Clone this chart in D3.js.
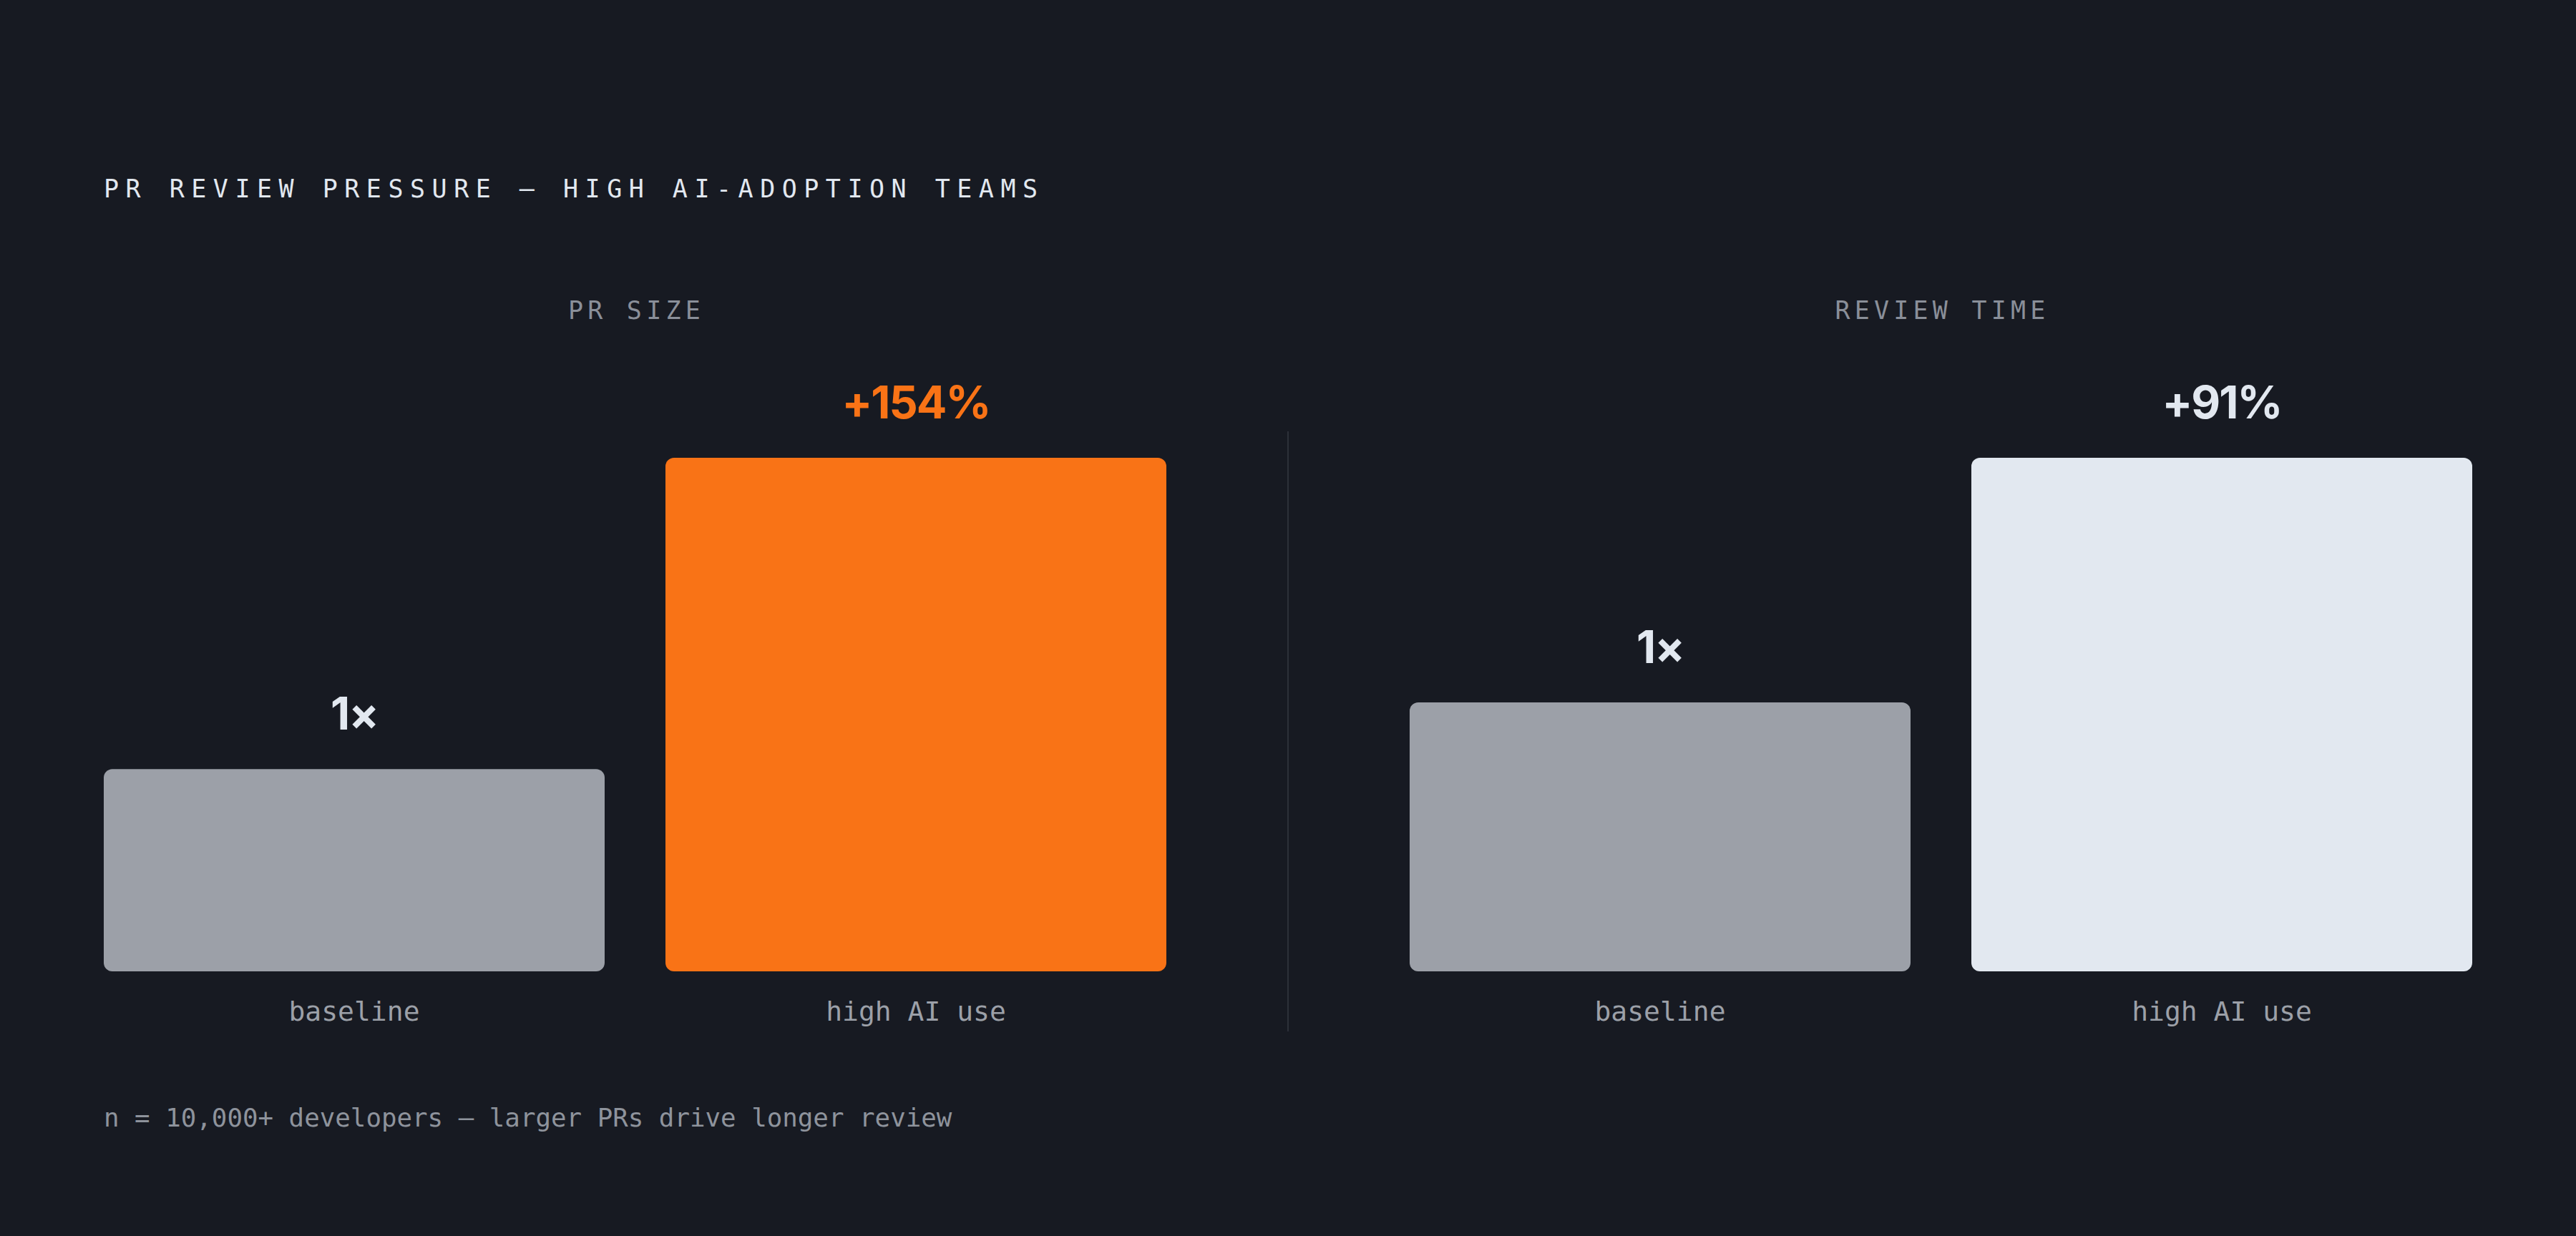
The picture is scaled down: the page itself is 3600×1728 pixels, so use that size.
<!DOCTYPE html>
<html>
<head>
<meta charset="utf-8">
<script src="https://cdn.jsdelivr.net/npm/d3@7"></script>
<style>
  html, body { margin: 0; padding: 0; background: #171a22; }
  svg { display: block; }
</style>
</head>
<body>
<svg id="chart" width="3600" height="1728"></svg>
<script>
// ---- data ----
const panelTitles = ["PR SIZE", "REVIEW TIME"];
const categories = ["baseline", "high AI use"];
const prSizeValues = [1, 2.54];
const reviewTimeValues = [1, 1.91];
const prSizeLabels = ["1×", "+154%"];
const reviewTimeLabels = ["1×", "+91%"];
const chartTitle = "PR REVIEW PRESSURE — HIGH AI-ADOPTION TEAMS";
const footnote = "n = 10,000+ developers — larger PRs drive longer review";

// ---- styling ----
const W = 3600, H = 1728;
const bg = "#171a22";
const mono = "'DejaVu Sans Mono', 'Liberation Mono', monospace";
const sans = "Inter, 'Noto Sans', sans-serif";
const panelColors = [
  ["#9ca0a8", "#f97316"],
  ["#9ca0a8", "#e2e8f0"]
];
const labelColors = [
  ["#e2e8f0", "#f97316"],
  ["#e2e8f0", "#e2e8f0"]
];

const panels = [
  { title: panelTitles[0], values: prSizeValues, labels: prSizeLabels },
  { title: panelTitles[1], values: reviewTimeValues, labels: reviewTimeLabels }
];

const svg = d3.select("#chart");
svg.append("rect").attr("width", W).attr("height", H).attr("fill", bg);

const left = 145, right = 3455, panelW = 1485;
const gap = (right - left) - 2 * panelW;
const panelScale = d3.scaleBand()
  .domain(d3.range(panels.length))
  .range([left, right])
  .paddingInner(gap / (panelW + gap))
  .paddingOuter(0);

const baseY = 1358, topY = 640;

// title
svg.append("text")
  .attr("x", left).attr("y", 276)
  .attr("font-family", mono).attr("font-size", 35)
  .attr("letter-spacing", 9.5)
  .attr("fill", "#e2e8f0")
  .text(chartTitle);

panels.forEach((p, pi) => {
  const g = svg.append("g").attr("transform", `translate(${panelScale(pi)},0)`);
  const pw = panelScale.bandwidth();
  const x = d3.scaleBand().domain(categories).range([0, pw]).paddingInner(85 / 785).paddingOuter(0);
  const y = d3.scaleLinear().domain([0, d3.max(p.values)]).range([baseY, topY]);

  g.append("text")
    .attr("x", pw / 2 + 2).attr("y", 446)
    .attr("text-anchor", "middle")
    .attr("font-family", mono).attr("font-size", 35)
    .attr("letter-spacing", 6.2)
    .attr("fill", "#8a8f99")
    .text(p.title);

  const data = categories.map((c, i) => ({ c, v: p.values[i], l: p.labels[i], i }));

  g.selectAll("rect.bar").data(data).enter().append("rect")
    .attr("class", "bar")
    .attr("x", d => x(d.c))
    .attr("y", d => y(d.v))
    .attr("width", x.bandwidth())
    .attr("height", d => baseY - y(d.v))
    .attr("rx", 12).attr("ry", 12)
    .attr("fill", d => panelColors[pi][d.i]);

  g.selectAll("text.val").data(data).enter().append("text")
    .attr("class", "val")
    .attr("x", d => x(d.c) + x.bandwidth() / 2)
    .attr("y", d => y(d.v) - 55)
    .attr("text-anchor", "middle")
    .attr("font-family", sans).attr("font-weight", 700).attr("font-size", 63)
    .attr("letter-spacing", -2)
    .attr("fill", d => labelColors[pi][d.i])
    .text(d => d.l);

  g.selectAll("text.cat").data(data).enter().append("text")
    .attr("class", "cat")
    .attr("x", d => x(d.c) + x.bandwidth() / 2)
    .attr("y", 1427)
    .attr("text-anchor", "middle")
    .attr("font-family", mono).attr("font-size", 38)
    .attr("fill", "#9ca0a8")
    .text(d => d.c);
});

// divider
const divX = (panelScale(0) + panelScale.bandwidth() + panelScale(1)) / 2;
svg.append("line")
  .attr("x1", divX).attr("x2", divX)
  .attr("y1", 603).attr("y2", 1442)
  .attr("stroke", "#2c3039").attr("stroke-width", 2);

// footnote
svg.append("text")
  .attr("x", left).attr("y", 1575)
  .attr("font-family", mono).attr("font-size", 35.8)
  .attr("fill", "#8e939c")
  .text(footnote);
</script>
</body>
</html>
